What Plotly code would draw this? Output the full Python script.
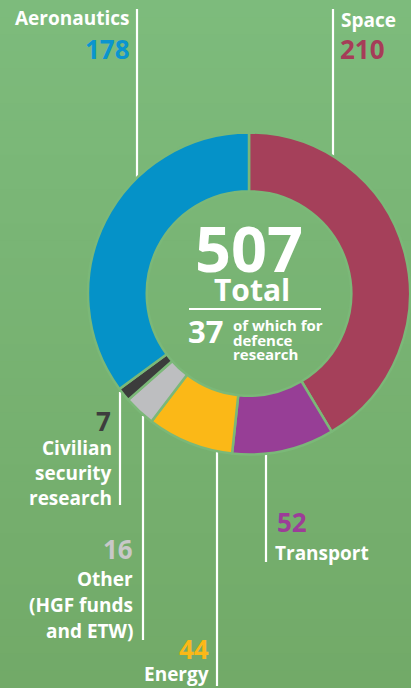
import plotly.graph_objects as go

# ---- data ----
categories = ["Space", "Transport", "Energy", "Other (HGF funds and ETW)",
              "Civilian security research", "Aeronautics"]
values = [210, 52, 44, 16, 7, 178]
slice_colors = ["#a5405a", "#973e96", "#fbb817", "#bdbec0", "#3c3c3c", "#0592c8"]
total = 507
defence = 37

label_lines = [["Space"], ["Transport"], ["Energy"], ["Other", "(HGF funds", "and ETW)"],
               ["Civilian", "security", "research"], ["Aeronautics"]]
number_colors = ["#a63d58", "#9c3d98", "#fbb817", "#c8c8c8", "#3d3d3d", "#0a95cf"]
centre_lines = ["of which for", "defence", "research"]

W, H = 411, 688
BG = "#7bb878"
top_rgb = (125, 187, 124)
bot_rgb = (114, 170, 104)
cx, cy, R = 249, 293.5, 161

fig = go.Figure()
fig.add_trace(go.Pie(
    labels=categories, values=values, sort=False, direction="clockwise", rotation=0,
    hole=0.635, textinfo="none", hoverinfo="label+value",
    marker=dict(colors=slice_colors, line=dict(color=BG, width=2.5)),
    domain=dict(x=[(cx - R) / W, (cx + R) / W], y=[(H - cy - R) / H, (H - cy + R) / H]),
    showlegend=False,
))

# invisible pixel axes for lines and texts
fig.add_trace(go.Scatter(x=[0, W], y=[0, H], mode="markers", marker=dict(opacity=0),
                         hoverinfo="skip", showlegend=False))

# background vertical gradient
N = 40
for i in range(N):
    t = i / (N - 1)
    c = tuple(round(a + (b - a) * t) for a, b in zip(top_rgb, bot_rgb))
    fig.add_shape(type="rect", x0=0, x1=W, y0=H * i / N, y1=H * (i + 1) / N + 1,
                  xref="x", yref="y", line=dict(width=0),
                  fillcolor="rgb(%d,%d,%d)" % c, layer="below")

F = "Open Sans"
def txt(x, y, s, size, color="white", anchor="left"):
    fig.add_annotation(x=x, y=y, xref="x", yref="y", text=s, showarrow=False,
                       xanchor=anchor, yanchor="middle", borderpad=0,
                       font=dict(family=F, size=size, color=color, weight="bold"))

def vline(x, y0, y1, w=2.2):
    fig.add_shape(type="line", x0=x, x1=x, y0=y0, y1=y1, xref="x", yref="y",
                  line=dict(color="white", width=w), layer="below")

# leader lines
vline(137, 9, 178)      # Aeronautics
vline(333, 9, 156)      # Space
vline(120, 392, 505)    # Civilian
vline(143, 416, 640)    # Other
vline(217, 452, 686)    # Energy
vline(266, 455, 562)    # Transport

LS = 19   # label font size
NS = 26   # number font size
# Space
txt(340, 20, label_lines[0][0], LS)
txt(339, 49, str(values[0]), NS, number_colors[0])
# Aeronautics
txt(130, 18, label_lines[5][0], LS, anchor="right")
txt(131, 49, str(values[5]), NS, number_colors[5], anchor="right")
# Transport
txt(276, 522, str(values[1]), NS, number_colors[1])
txt(274, 553, label_lines[1][0], LS)
# Energy
txt(210, 649, str(values[2]), NS, number_colors[2], anchor="right")
txt(210, 674, label_lines[2][0], LS, anchor="right")
# Other
txt(134, 549, str(values[3]), NS, number_colors[3], anchor="right")
for i, s in enumerate(label_lines[3]):
    txt(134, 579 + 26 * i, s, LS, anchor="right")
# Civilian security
txt(112, 421, str(values[4]), NS, number_colors[4], anchor="right")
for i, s in enumerate(label_lines[4]):
    txt(113, 448 + 25 * i, s, LS, anchor="right")

# centre (tight stacking as in the reference)
txt(249, 247, str(total), 63, anchor="center")
txt(252, 289, "Total", 30, anchor="center")
fig.add_shape(type="line", x0=189, x1=321, y0=309, y1=309, xref="x", yref="y",
              line=dict(color="white", width=2))
txt(187, 331, str(defence), 31)
for i, s in enumerate(centre_lines):
    txt(232, 325 + 14.5 * i, s, 15)

fig.update_layout(
    width=W, height=H, margin=dict(l=0, r=0, t=0, b=0),
    paper_bgcolor=BG, plot_bgcolor=BG,
    xaxis=dict(range=[0, W], visible=False, domain=[0, 1], fixedrange=True),
    yaxis=dict(range=[H, 0], visible=False, domain=[0, 1], fixedrange=True),
)
fig.write_html("out.html")
